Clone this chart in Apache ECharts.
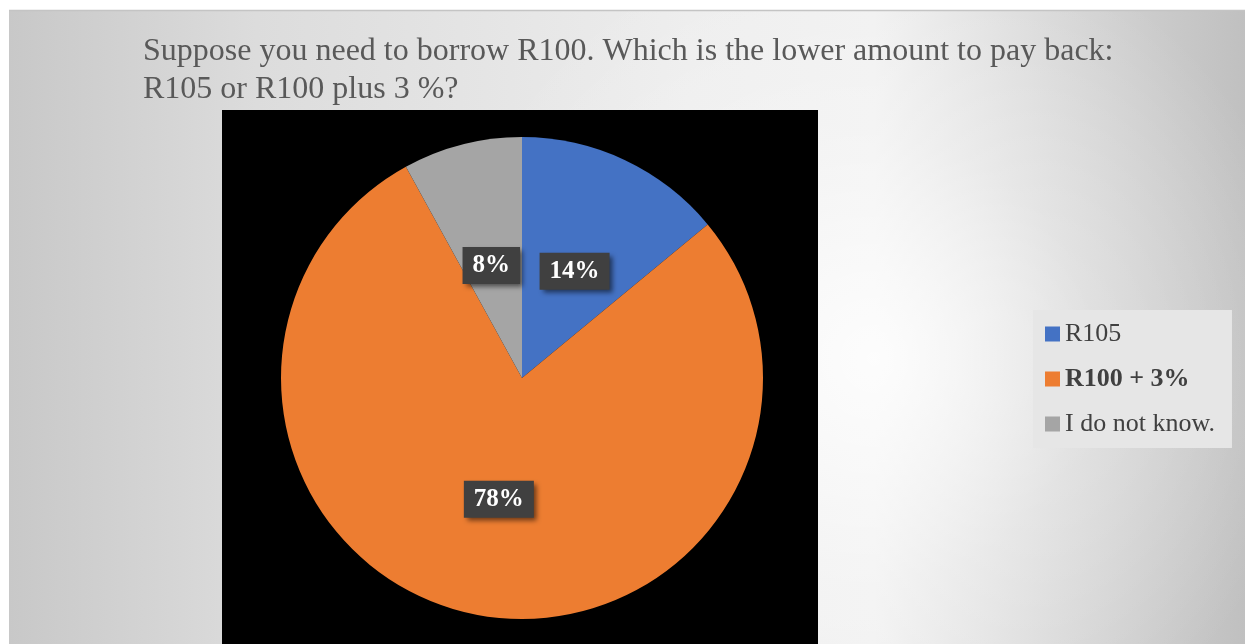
<!DOCTYPE html>
<html>
<head>
<meta charset="utf-8">
<script src="https://cdn.jsdelivr.net/npm/echarts@6/dist/echarts.min.js"></script>
<style>
  html, body { margin: 0; padding: 0; background: #ffffff; }
  #chart { width: 1245px; height: 644px; }
</style>
</head>
<body>
<div id="chart"></div>
<script>
// Survey answers: share of respondents per choice (percent)
const categories = ['R105', 'R100 + 3%', 'I do not know.'];
const shares = [14, 78, 8];
const sliceColors = ['#4472c4', '#ed7d31', '#a5a5a5'];
const titleLines = [
  'Suppose you need to borrow R100. Which is the lower amount to pay back:',
  'R105 or R100 plus 3 %?'
];
const boldLegendItem = 'R100 + 3%';

const serif = '"Liberation Serif", "Times New Roman", serif';
const chart = echarts.init(document.getElementById('chart'), null, { renderer: 'canvas' });

// nudge the two small-slice labels a little lower, away from the rim
const labelNudge = [[0, 5], [0, 0], [0, 7]];

chart.setOption({
  backgroundColor: '#ffffff',
  animation: false,
  title: {
    text: titleLines.join('\n'),
    left: 143,
    top: 33,
    padding: 0,
    textStyle: {
      fontFamily: serif,
      fontSize: 32,
      fontWeight: 'normal',
      color: '#595959',
      lineHeight: 38
    }
  },
  graphic: [
    // slide panel with soft grey shading
    {
      type: 'rect', z: -10, silent: true,
      shape: { x: 9, y: 10, width: 1236, height: 634 },
      style: {
        fill: {
          type: 'linear', x: 0, y: 0, x2: 1, y2: 0,
          colorStops: [
            { offset: 0, color: '#c8c8c8' },
            { offset: 0.2, color: '#dcdcdc' },
            { offset: 0.55, color: '#ededed' },
            { offset: 0.7, color: '#f0f0f0' },
            { offset: 0.84, color: '#d8d8d8' },
            { offset: 1, color: '#c0c0c0' }
          ]
        }
      }
    },
    {
      type: 'rect', z: -9, silent: true,
      shape: { x: 9, y: 10, width: 1236, height: 634 },
      style: {
        fill: {
          type: 'radial', x: 0.7, y: 0.55, r: 0.7,
          colorStops: [
            { offset: 0, color: 'rgba(255,255,255,0.85)' },
            { offset: 0.5, color: 'rgba(255,255,255,0.3)' },
            { offset: 1, color: 'rgba(255,255,255,0)' }
          ]
        }
      }
    },
    {
      type: 'line', z: -8, silent: true,
      shape: { x1: 9, y1: 10.5, x2: 1245, y2: 10.5 },
      style: { stroke: '#c4c4c4', lineWidth: 1.5 }
    },
    // black plot backdrop
    {
      type: 'rect', z: -5, silent: true,
      shape: { x: 222, y: 110, width: 596, height: 534 },
      style: { fill: '#000000' }
    }
  ],
  legend: {
    orient: 'vertical',
    left: 1033,
    top: 310,
    data: categories,
    icon: 'rect',
    itemWidth: 15,
    itemHeight: 15,
    itemGap: 19,
    padding: [11, 17, 11, 12],
    backgroundColor: '#e6e6e6',
    formatter: function (name) {
      return name === boldLegendItem ? '{b|' + name + '}' : '{n|' + name + '}';
    },
    textStyle: {
      fontFamily: serif,
      fontSize: 26,
      color: '#404040',
      rich: {
        n: { fontFamily: serif, fontSize: 26, color: '#404040', lineHeight: 26 },
        b: { fontFamily: serif, fontSize: 26, color: '#404040', fontWeight: 'bold', lineHeight: 26 }
      }
    }
  },
  series: [
    {
      type: 'pie',
      center: [522, 378],
      radius: 241,
      startAngle: 90,
      clockwise: true,
      data: categories.map((name, i) => ({
        name: name,
        value: shares[i],
        itemStyle: { color: sliceColors[i] },
        label: { offset: labelNudge[i] }
      })),
      itemStyle: { borderWidth: 0 },
      label: {
        show: true,
        position: 'inside',
        formatter: '{c}%',
        fontFamily: serif,
        fontSize: 25,
        fontWeight: 'bold',
        color: '#ffffff',
        backgroundColor: '#404040',
        padding: [6, 10, 6, 10],
        lineHeight: 25,
        shadowColor: 'rgba(0,0,0,0.55)',
        shadowBlur: 5,
        shadowOffsetX: 3,
        shadowOffsetY: 3
      },
      labelLine: { show: false },
      emphasis: { disabled: true }
    }
  ]
});
</script>
</body>
</html>
